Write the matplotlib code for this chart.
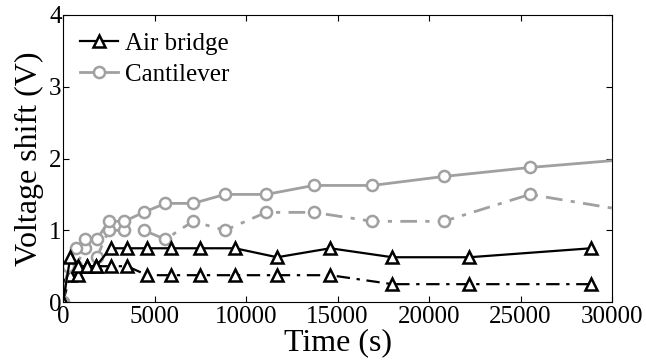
import numpy as np
import matplotlib
matplotlib.use("Agg")
import matplotlib.pyplot as plt

plt.rcParams['font.family'] = ['Liberation Serif', 'DejaVu Serif']
plt.rcParams['mathtext.fontset'] = 'stix'

# air bridge (triangles, black)
t_air = [0, 400, 800, 1300, 1800, 2600, 3500, 4600, 5900, 7500, 9400, 11700, 14600, 18000, 22200, 28850]
air_solid = [0, 0.625, 0.5, 0.5, 0.5, 0.75, 0.75, 0.75, 0.75, 0.75, 0.75, 0.625, 0.75, 0.625, 0.625, 0.75]
air_dash = [0, 0.375, 0.375, 0.5, 0.5, 0.5, 0.5, 0.375, 0.375, 0.375, 0.375, 0.375, 0.375, 0.25, 0.25, 0.25]

# cantilever (circles, gray) - last point lies past the x limit
t_cant = [0, 300, 700, 1200, 1850, 2500, 3350, 4400, 5600, 7100, 8850, 11100, 13700, 16900, 20800, 25500, 31400]
cant_solid = [0, 0.5, 0.75, 0.875, 0.875, 1.125, 1.125, 1.25, 1.375, 1.375, 1.5, 1.5, 1.625, 1.625, 1.75, 1.875, 2.0]
cant_dash = [0, 0.5, 0.5, 0.75, 0.625, 1.0, 1.0, 1.0, 0.875, 1.125, 1.0, 1.25, 1.25, 1.125, 1.125, 1.5, 1.25]

gray = '#a0a0a0'

fig = plt.figure(figsize=(6.46, 3.64), dpi=100)
ax = fig.add_axes([0.0975, 0.170, 0.85, 0.789])

dashdot = (0, (6, 3, 1.5, 3))
ax.plot(t_cant, cant_dash, color=gray, ls=dashdot, lw=2, marker='o', ms=8, mfc='white', mec=gray, mew=1.8)
ax.plot(t_air, air_dash, color='black', ls=dashdot, lw=1.6, marker='^', ms=8, mfc='white', mec='black', mew=1.8)
ax.plot(t_cant, cant_solid, '-', color=gray, lw=2, marker='o', ms=8, mfc='white', mec=gray, mew=1.8,
        label='Cantilever')
ax.plot(t_air, air_solid, '-', color='black', lw=1.6, marker='^', ms=8, mfc='white', mec='black', mew=1.8,
        label='Air bridge')

ax.set_xlim(0, 30000)
ax.set_ylim(0, 4)
ax.set_xticks(np.arange(0, 30001, 5000))
ax.set_yticks([0, 1, 2, 3, 4])
ax.tick_params(direction='in', top=True, right=True, labelsize=18, length=4, pad=1)
ax.tick_params(axis='x', pad=3)
ax.set_xlabel('Time (s)', fontsize=23, labelpad=0)
ax.set_ylabel('Voltage shift (V)', fontsize=23, labelpad=4)

h, l = ax.get_legend_handles_labels()
ax.legend(h[::-1], l[::-1], loc='upper left', frameon=False, fontsize=18,
          handlelength=1.5, handletextpad=0.3, labelspacing=0.35, borderaxespad=0.3)

fig.savefig('out.png', dpi=100)
